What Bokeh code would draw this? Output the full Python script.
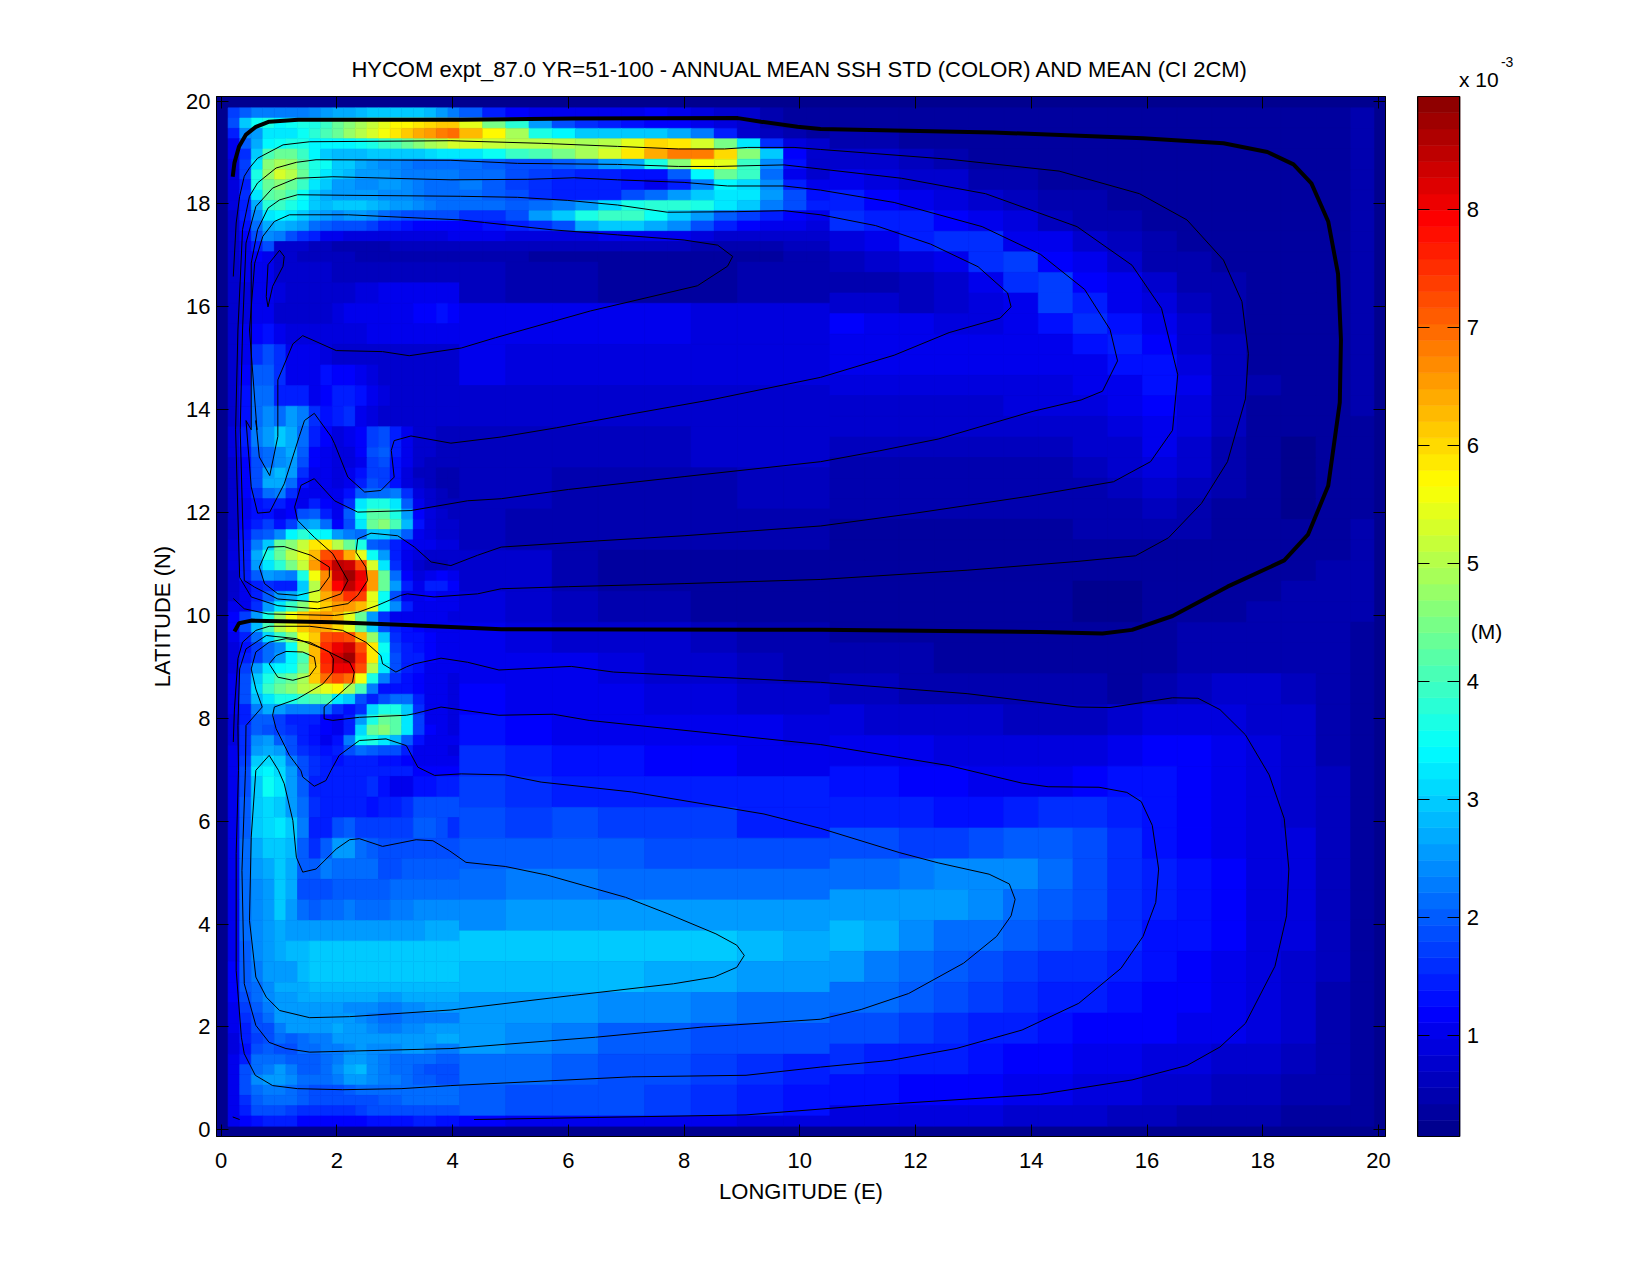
from bokeh.embed import file_html
from bokeh.resources import INLINE
from bokeh.plotting import figure
from bokeh.layouts import row
from bokeh.models import LinearAxis, Label, FixedTicker, ColumnDataSource, Range1d, Title

TITLE = "HYCOM expt_87.0 YR=51-100 - ANNUAL MEAN SSH STD (COLOR) AND MEAN (CI 2CM)"
XLABEL = "LONGITUDE (E)"
YLABEL = "LATITUDE (N)"
XTICKS = [0, 2, 4, 6, 8, 10, 12, 14, 16, 18, 20]
YTICKS = [0, 2, 4, 6, 8, 10, 12, 14, 16, 18, 20]
CTICKS = [1, 2, 3, 4, 5, 6, 7, 8]
VMIN, VMAX = 0.14, 8.96
BORDER = 0.25

# SSH std (units of 1e-3 m). Grid indices: col k spans -0.08+0.2k, row r spans -0.13+0.2r
WEST_COLS = list(range(1, 22))

WEST_NORTH_ROWS = [(r, r) for r in range(99, 84, -1)]
WEST_NORTH = [
[1.7,2.0,2.3,2.3,2.3,2.3,2.3,2.4,2.6,2.7,2.7,2.8,3.0,3.0,3.0,3.0,2.9,2.8,2.5,2.3],
[1.9,2.9,3.5,3.6,3.4,3.5,3.6,3.6,3.9,4.3,4.6,4.9,5.2,5.5,5.7,5.7,5.9,6.0,6.1,6.2],
[1.4,2.4,2.6,3.2,3.2,3.3,3.5,3.8,4.1,4.4,4.8,5.0,5.3,5.6,5.8,6.1,6.4,6.6,6.8,6.9],
[1.1,2.0,2.7,3.4,3.5,3.7,3.6,3.4,3.4,3.4,3.4,3.5,3.7,3.9,4.1,4.3,4.6,4.9,5.1,5.3],
[1.0,1.6,3.0,4.0,4.3,4.3,3.9,3.4,3.0,2.8,2.8,2.8,2.9,2.9,3.0,3.0,3.0,3.1,3.2,3.2],
[0.9,1.7,3.2,4.6,4.9,4.7,4.2,3.7,3.5,3.0,2.9,2.7,2.5,2.4,2.4,2.3,2.2,2.1,2.1,2.2],
[0.9,1.7,3.6,4.8,5.3,5.1,4.3,3.7,3.3,3.0,2.8,2.6,2.6,2.5,2.4,2.3,2.3,2.3,2.3,2.3],
[0.9,1.5,3.6,4.4,4.6,4.4,3.9,3.3,2.9,2.6,2.5,2.4,2.4,2.5,2.5,2.4,2.3,2.2,2.2,2.2],
[0.9,1.6,3.2,4.2,4.3,4.0,3.5,2.9,2.7,2.6,2.6,2.5,2.5,2.4,2.4,2.4,2.3,2.2,2.2,2.2],
[0.9,1.5,2.7,3.8,3.9,3.6,3.4,3.0,2.8,2.9,3.0,2.9,2.8,2.7,2.5,2.5,2.4,2.3,2.2,2.1],
[0.8,1.4,2.4,3.2,3.4,3.3,3.0,2.7,2.5,2.4,2.5,2.5,2.4,2.2,2.0,1.9,1.9,1.9,1.8,1.8],
[0.8,1.3,2.1,2.7,2.8,2.7,2.5,2.2,2.0,1.9,1.9,1.8,1.7,1.5,1.4,1.3,1.2,1.2,1.2,1.2],
[0.7,1.2,1.8,2.4,2.3,1.8,1.6,1.4,1.1,1.0,0.9,0.9,0.9,0.9,0.9,0.9,0.9,0.9,0.9,1.0],
[0.7,1.1,1.4,1.9,0.8,0.7,0.7,0.6,0.6,0.5,0.5,0.5,0.5,0.5,0.6,0.6,0.6,0.6,0.6,0.6],
[0.7,1.0,1.2,1.1,0.7,0.7,0.6,0.6,0.6,0.6,0.6,0.5,0.5,0.5,0.5,0.5,0.5,0.5,0.5,0.5],
]

WEST_MID_ROWS = [(83,84),(81,82),(79,80),(77,78),(75,76),(73,74),(71,72),(69,70),(67,68)]
WEST_MID = [
[0.7,1.0,1.1,1.0,0.8,0.7,0.7,0.7,0.7,0.6,0.6,0.6,0.6,0.6,0.6,0.6,0.6,0.6,0.6,0.6],
[0.7,0.9,1.0,1.0,0.9,0.8,0.7,0.7,0.8,0.8,0.8,0.9,0.9,1.0,1.0,1.1,1.1,1.1,1.1,1.1],
[0.7,0.9,1.1,1.0,0.7,0.7,0.7,0.7,0.8,0.9,1.0,1.1,1.1,1.1,1.1,1.1,1.2,1.2,1.3,1.2],
[0.7,1.0,1.2,1.3,1.0,0.9,0.9,0.9,0.9,0.9,0.9,0.9,1.0,1.0,1.1,1.1,1.1,1.1,1.1,1.0],
[0.7,1.1,1.6,1.9,1.6,1.1,1.0,1.0,0.9,0.8,0.8,0.8,0.8,0.8,0.8,0.8,0.8,0.8,0.8,0.8],
[0.7,1.2,2.0,2.0,1.6,1.1,1.1,1.0,1.3,1.2,1.2,1.1,0.9,0.8,0.8,0.8,0.8,0.7,0.7,0.7],
[0.7,1.3,2.1,2.2,1.5,1.5,1.4,1.0,1.2,1.5,1.5,1.3,1.0,0.9,0.8,0.8,0.7,0.7,0.7,0.7],
[0.7,1.3,2.1,2.4,2.2,2.5,2.3,1.6,1.3,1.5,1.6,1.1,0.9,0.8,0.7,0.7,0.7,0.7,0.8,0.8],
[0.9,1.4,2.3,2.5,2.9,2.7,2.1,1.4,1.2,0.9,1.0,1.2,1.7,1.8,1.4,1.1,0.8,0.7,0.6,0.6],
]

WEST_EDDY_ROWS = [(r, r) for r in range(66, 34, -1)]
WEST_EDDY = [
[0.9,1.3,2.0,2.2,2.4,2.7,2.0,1.2,1.1,0.9,0.9,1.2,1.9,2.0,1.5,1.1,0.8,0.7,0.6,0.6],
[0.8,1.2,1.8,2.2,2.4,2.5,1.8,1.2,1.0,0.9,0.9,1.1,1.7,1.8,1.3,1.0,0.7,0.6,0.6,0.6],
[0.8,1.2,1.8,2.6,2.8,2.5,1.6,1.1,1.0,0.9,1.0,1.3,1.7,1.7,1.3,0.9,0.6,0.6,0.5,0.5],
[0.8,1.2,1.8,2.7,2.7,2.1,1.3,1.0,1.0,0.9,1.1,1.5,1.8,1.7,1.3,0.9,0.7,0.6,0.5,0.5],
[0.8,1.2,1.6,2.1,2.3,1.6,1.0,1.0,1.0,1.0,1.3,2.0,2.2,2.2,2.3,1.6,0.9,0.7,0.6,0.5],
[0.8,1.1,1.3,1.5,1.4,1.2,1.0,1.4,1.2,1.0,1.6,3.3,3.6,3.7,3.2,2.0,1.0,0.8,0.6,0.6],
[0.8,1.1,1.3,1.3,1.0,1.2,1.8,2.0,1.4,1.0,2.0,3.5,4.2,4.2,3.6,2.5,1.2,0.9,0.7,0.6],
[0.8,1.2,1.4,1.7,1.3,1.7,2.5,2.7,2.2,1.2,1.9,3.2,4.3,4.6,4.0,2.8,1.3,0.9,0.8,0.7],
[0.8,1.3,1.8,2.0,2.4,3.4,3.8,3.5,3.4,2.6,2.3,2.2,3.0,3.0,2.5,2.0,1.1,0.9,0.8,0.8],
[0.9,1.5,2.3,3.0,4.4,4.6,5.2,5.8,5.8,5.1,4.4,3.7,2.0,1.8,1.5,1.2,1.0,1.0,0.9,0.9],
[0.9,1.5,2.7,3.7,4.4,5.0,5.5,6.3,7.3,7.4,6.4,5.5,3.5,2.5,1.4,1.1,0.9,0.8,0.8,0.8],
[0.9,1.4,2.5,3.3,3.8,4.5,5.2,6.5,7.6,8.5,8.4,7.2,5.3,3.2,1.6,1.0,0.7,0.6,0.6,0.7],
[0.8,1.4,2.0,2.6,2.4,2.3,3.6,5.6,6.7,8.3,8.7,8.0,6.5,4.3,2.1,1.2,0.9,1.0,1.2,1.0],
[0.8,1.1,1.5,1.6,1.5,1.4,2.9,5.0,6.8,7.9,8.5,7.9,6.6,4.4,2.6,1.5,1.1,1.4,1.5,1.2],
[0.8,1.0,1.5,2.0,2.5,2.7,3.3,5.3,6.4,7.0,7.5,7.4,5.4,3.5,1.9,1.1,1.1,1.2,1.1,1.0],
[1.0,1.1,1.6,2.5,3.3,3.9,4.6,5.7,6.2,6.5,6.5,6.3,5.4,3.5,2.4,1.4,1.1,1.0,1.1,1.0],
[1.2,1.7,2.6,3.7,4.7,5.6,6.2,6.4,6.6,6.3,5.5,4.3,2.5,1.6,1.1,1.0,1.0,1.0,1.0,0.9],
[1.2,1.8,2.8,4.0,5.0,5.5,6.1,6.4,6.4,6.0,5.4,4.3,2.9,1.9,1.4,1.3,1.2,1.1,1.0,1.0],
[1.0,1.5,2.2,3.1,3.9,4.5,5.6,6.2,7.2,7.4,7.3,6.3,4.8,3.0,1.6,1.3,1.3,1.2,1.1,1.0],
[0.9,1.3,1.7,2.2,2.4,3.5,5.0,6.3,7.5,8.1,8.4,7.3,5.8,3.5,1.7,1.4,1.3,1.2,1.1,1.0],
[0.9,1.4,1.7,2.2,2.6,3.4,4.0,6.3,7.6,8.4,8.7,7.5,5.8,3.4,1.9,1.5,1.4,1.2,1.1,1.0],
[0.9,1.7,2.5,3.2,3.4,3.5,4.4,6.1,7.5,8.1,8.0,7.3,5.0,3.2,1.9,1.5,1.3,1.1,1.1,1.0],
[1.0,1.9,3.0,3.6,4.0,4.4,4.9,6.2,6.9,7.3,7.0,5.6,3.7,2.3,1.6,1.3,1.2,1.1,1.0,0.9],
[1.0,1.9,3.1,3.9,4.4,4.6,5.0,5.2,5.5,5.7,4.9,4.0,2.3,1.3,1.3,1.3,1.2,1.1,1.0,0.9],
[1.0,1.8,2.8,3.2,3.6,3.7,3.9,4.0,4.0,3.3,3.0,1.9,1.4,1.9,2.2,2.1,1.4,1.1,1.0,0.9],
[1.0,1.5,2.3,2.7,2.5,2.3,2.3,2.3,2.1,1.6,1.3,1.6,3.1,3.6,3.6,3.0,1.6,1.1,1.0,0.9],
[0.9,1.4,2.0,2.0,1.7,1.5,1.5,1.5,1.2,1.0,1.4,2.5,3.6,4.4,4.2,3.2,1.7,1.1,1.0,0.9],
[0.9,1.6,2.0,1.9,1.7,1.6,1.5,1.3,1.2,1.0,1.5,3.1,4.3,4.6,4.2,3.3,1.7,1.2,1.0,0.9],
[0.9,1.6,2.4,2.5,2.0,1.8,1.5,1.3,1.1,1.3,2.3,3.5,3.6,3.3,2.8,2.0,1.3,1.1,1.0,1.0],
[1.0,1.6,2.6,2.7,2.5,1.9,1.6,1.4,1.3,1.5,1.8,2.1,2.0,1.9,1.8,1.4,1.1,1.1,1.0,0.9],
[1.0,1.7,2.9,3.1,2.9,2.3,1.9,1.6,1.4,1.3,1.5,1.5,1.4,1.3,1.3,1.2,1.0,1.1,1.0,1.0],
[1.0,1.8,3.2,3.4,3.1,2.5,1.9,1.6,1.5,1.4,1.4,1.4,1.4,1.5,1.5,1.4,1.2,1.2,1.2,1.2],
]

WEST_SOUTH_ROWS = [(33,34),(31,32),(29,30),(27,28),(25,26),(23,24),(21,22),(19,20),(17,18),(15,16),
                   (14,14),(13,13),(12,12),(11,11),(10,10),(9,9),(8,8),(7,7),(6,6),(5,5),(4,4),(3,3),(2,2),(1,1)]
WEST_SOUTH = [
[1.0,1.9,3.0,3.5,3.2,2.5,2.0,1.5,1.5,1.4,1.4,1.4,1.6,1.3,1.1,1.0,1.3,1.3,1.4,1.4],
[1.0,2.0,2.9,3.1,3.0,2.6,2.2,1.6,1.4,1.4,1.4,1.4,1.3,1.4,1.4,1.6,1.8,1.8,1.8,1.8],
[1.0,2.0,2.9,3.1,3.2,2.9,2.3,1.4,1.4,1.8,2.0,1.7,1.7,1.7,1.7,1.7,2.0,2.0,1.8,1.6],
[1.0,2.1,2.7,3.0,3.0,2.8,2.0,1.6,2.0,2.6,2.5,2.2,2.0,1.8,1.8,1.9,1.9,1.9,1.9,1.9],
[1.0,2.1,2.5,2.7,3.0,2.7,2.0,2.0,2.3,2.2,2.2,2.1,2.1,1.9,1.8,2.0,2.0,2.0,2.0,2.0],
[1.0,2.1,2.4,2.6,3.0,2.7,1.9,1.8,1.9,2.0,2.0,2.0,2.0,2.0,2.2,2.2,2.2,2.2,2.2,2.2],
[1.0,2.1,2.4,2.6,2.9,2.5,2.2,2.0,2.1,2.2,2.3,2.2,2.1,2.2,2.3,2.3,2.4,2.4,2.4,2.4],
[1.1,2.1,2.4,2.6,2.7,2.6,2.6,2.5,2.5,2.5,2.5,2.5,2.6,2.6,2.6,2.6,2.6,2.7,2.7,2.7],
[1.1,2.0,2.4,2.6,2.75,2.85,2.85,2.9,2.9,2.9,2.9,2.9,2.9,2.9,2.9,2.9,2.9,2.9,2.9,2.9],
[1.2,2.0,2.3,2.5,2.6,2.6,2.85,2.9,2.9,2.9,2.9,2.9,2.9,2.9,2.9,2.9,2.9,2.9,2.9,2.9],
[1.2,2.0,2.2,2.4,2.7,2.7,2.7,2.8,2.8,2.8,2.8,2.8,2.8,2.8,2.8,2.8,2.8,2.8,2.8,2.8],
[1.2,1.9,2.1,2.4,2.5,2.6,2.7,2.7,2.7,2.7,2.7,2.7,2.7,2.6,2.6,2.7,2.7,2.7,2.7,2.7],
[1.1,1.7,2.0,2.3,2.5,2.6,2.6,2.6,2.6,2.6,2.4,2.4,2.4,2.3,2.3,2.4,2.4,2.5,2.5,2.5],
[1.1,1.6,1.9,2.1,2.6,2.6,2.6,2.6,2.6,2.6,2.5,2.4,2.3,2.2,2.2,2.3,2.3,2.3,2.3,2.3],
[1.0,1.5,1.8,1.9,2.3,2.6,2.6,2.6,2.6,2.7,2.6,2.5,2.4,2.3,2.3,2.4,2.4,2.5,2.5,2.6],
[0.9,1.4,1.7,1.9,2.1,2.0,2.2,2.3,2.3,2.6,2.6,2.5,2.5,2.5,2.5,2.6,2.6,2.6,2.7,2.7],
[0.9,1.3,1.9,2.0,1.9,1.9,2.1,2.1,2.3,2.3,2.4,2.5,2.4,2.4,2.4,2.5,2.5,2.4,2.3,2.3],
[1.0,1.5,2.1,2.1,2.2,2.0,2.0,2.0,2.2,2.3,2.5,2.5,2.4,2.3,2.2,2.2,2.2,2.2,2.0,2.0],
[1.1,1.8,2.2,2.3,2.5,2.3,2.0,2.0,2.2,2.4,2.7,2.8,2.4,2.3,2.2,2.1,2.0,1.9,1.9,1.9],
[1.1,1.9,2.4,2.6,2.5,2.4,2.1,2.1,2.2,2.3,2.6,2.6,2.4,2.3,2.3,2.2,2.0,2.0,1.9,1.9],
[1.1,1.8,2.2,2.3,2.3,2.2,2.0,1.9,1.9,1.9,2.0,2.1,2.1,2.1,2.1,2.1,2.1,2.1,2.1,2.1],
[1.0,1.6,2.0,2.1,2.2,2.2,2.0,1.9,1.8,1.8,1.9,1.9,1.9,2.0,2.0,2.1,2.1,2.1,2.1,2.1],
[1.0,1.4,1.8,1.9,1.9,1.7,1.6,1.6,1.6,1.6,1.6,1.7,1.8,1.9,1.8,1.8,1.8,1.9,1.8,1.8],
[1.0,1.2,1.3,1.4,1.4,1.4,1.2,1.2,1.2,1.2,1.2,1.2,1.3,1.3,1.3,1.3,1.4,1.4,1.3,1.3],
]

BAND_COLS = list(range(21, 54, 2))
BAND_ROWS = [(r, r) for r in range(99, 84, -1)]
BAND = [
[2.0,1.4,1.2,1.1,1.0,1.0,1.0,1.1,1.2,1.1,0.9,0.8,0.7,0.5,0.4,0.4],
[5.4,4.5,3.8,2.6,1.9,1.6,1.4,1.3,1.2,1.2,1.0,0.9,0.7,0.5,0.4,0.4],
[6.3,5.7,4.9,3.7,3.4,2.9,2.9,2.9,2.9,2.7,2.3,1.4,0.8,0.6,0.5,0.4],
[5.3,5.2,5.1,5.1,5.0,4.9,5.0,5.5,6.0,5.9,5.3,4.5,3.3,1.6,0.9,0.7],
[3.2,3.5,3.9,4.1,4.5,4.9,5.3,5.8,6.4,6.8,6.8,6.0,4.6,2.9,1.2,0.7],
[2.1,2.0,1.9,1.9,2.0,2.2,2.5,2.7,3.7,4.6,5.6,5.5,3.9,2.4,1.3,0.8],
[2.2,2.1,1.9,1.7,1.6,1.5,1.4,1.3,1.3,2.0,3.4,4.3,3.9,2.2,1.1,0.7],
[2.3,2.0,1.7,1.6,1.5,1.5,1.4,1.3,1.1,1.4,2.3,3.4,3.1,2.4,1.4,1.0],
[2.2,2.0,1.8,1.6,1.4,1.4,1.5,1.8,2.1,2.5,2.9,3.3,3.3,2.5,1.9,1.3],
[2.1,2.1,2.0,2.2,2.3,2.6,3.1,3.7,3.8,3.8,3.7,3.3,2.9,2.3,1.9,1.5],
[1.6,1.6,1.8,2.5,3.0,3.6,3.9,3.9,3.5,3.0,2.5,2.0,1.7,1.4,1.2,1.1],
[1.2,1.3,1.5,1.6,1.9,2.7,2.9,2.9,2.7,2.4,1.9,1.5,1.2,1.1,1.0,0.9],
[1.0,1.0,0.9,0.9,0.9,0.9,1.0,1.0,1.0,1.0,0.9,0.8,0.8,0.7,0.7,0.7],
[0.6,0.6,0.6,0.6,0.6,0.6,0.6,0.6,0.6,0.6,0.5,0.5,0.5,0.5,0.6,0.6],
[0.5,0.5,0.5,0.4,0.4,0.4,0.4,0.4,0.4,0.4,0.4,0.4,0.4,0.4,0.5,0.5],
]

MIDLON_COLS = [21, 25, 29, 33, 37, 41, 45, 49, 53]
MIDLON_ROWS = [(81,84),(77,80),(73,76),(69,72),(65,68),(61,64),(57,60),(53,56),(50,52),(47,49),(44,46),(41,43),
               (38,40),(35,37),(32,34),(29,31),(26,28),(23,25),(20,22),(17,19),(14,16),(11,13),(8,10),(5,7),(2,4),(1,1)]
MIDLON = [
[0.6,0.5,0.45,0.4,0.4,0.4,0.45,0.5],
[1.0,1.0,1.0,1.0,1.0,0.9,0.9,0.9],
[1.0,0.9,0.9,0.9,0.9,0.9,0.9,0.9],
[0.7,0.7,0.7,0.8,0.8,0.8,0.8,0.8],
[0.6,0.6,0.6,0.6,0.6,0.7,0.7,0.7],
[0.6,0.6,0.5,0.5,0.5,0.5,0.6,0.6],
[0.6,0.5,0.5,0.45,0.45,0.45,0.45,0.5],
[0.7,0.7,0.5,0.4,0.35,0.35,0.4,0.4],
[0.9,0.7,0.6,0.5,0.45,0.4,0.4,0.4],
[1.0,0.9,0.8,0.75,0.7,0.6,0.5,0.45],
[1.1,1.0,1.0,0.9,0.8,0.7,0.6,0.55],
[1.2,1.1,1.1,1.0,0.9,0.9,0.8,0.7],
[1.3,1.2,1.1,1.1,1.0,1.0,1.0,0.9],
[1.6,1.5,1.3,1.3,1.2,1.2,1.1,1.1],
[1.7,1.6,1.5,1.5,1.5,1.4,1.4,1.4],
[1.8,1.7,1.8,1.7,1.7,1.7,1.5,1.5],
[2.0,2.0,2.0,2.0,1.9,1.9,1.8,1.8],
[2.2,2.3,2.3,2.2,2.2,2.2,2.1,2.1],
[2.4,2.5,2.5,2.6,2.55,2.6,2.6,2.6],
[2.9,2.95,3.0,3.0,3.0,2.9,2.85,2.75],
[2.85,2.85,2.85,2.85,2.75,2.75,2.6,2.5],
[2.6,2.6,2.5,2.4,2.4,2.3,2.2,2.1],
[2.5,2.4,2.3,2.0,2.0,1.9,1.8,1.8],
[2.2,2.1,2.0,1.9,1.8,1.7,1.6,1.5],
[2.0,1.9,1.9,1.8,1.7,1.6,1.4,1.3],
[1.2,1.1,1.1,1.1,1.1,1.0,0.95,0.9],
]

EAST_COLS = [53,56,59,62,65,68,71,74,77,80,83,86,89,92,95,98,100]
EAST_NORTH_ROWS = [(r, r + 1) for r in range(98, 46, -2)]
EAST_NORTH = [
[0.3,0.3,0.3,0.3,0.3,0.3,0.3,0.3,0.3,0.3,0.3,0.3,0.3,0.3,0.35,0.45],
[0.55,0.5,0.4,0.35,0.3,0.3,0.3,0.3,0.3,0.3,0.3,0.3,0.3,0.3,0.35,0.45],
[0.8,0.7,0.6,0.5,0.4,0.35,0.3,0.3,0.3,0.3,0.3,0.3,0.3,0.3,0.35,0.45],
[1.0,0.9,0.8,0.7,0.55,0.45,0.4,0.35,0.35,0.3,0.3,0.3,0.3,0.3,0.35,0.45],
[1.5,1.2,1.1,0.9,0.8,0.6,0.5,0.45,0.35,0.35,0.3,0.3,0.3,0.3,0.35,0.45],
[1.6,1.5,1.5,1.2,1.0,0.9,0.6,0.55,0.45,0.4,0.35,0.3,0.3,0.3,0.35,0.45],
[0.9,1.1,1.4,1.6,1.6,1.1,1.0,0.8,0.6,0.5,0.4,0.35,0.3,0.3,0.35,0.45],
[0.6,0.7,0.9,1.1,1.6,1.7,1.2,1.0,0.8,0.55,0.45,0.4,0.35,0.3,0.35,0.45],
[0.5,0.5,0.6,0.7,1.0,1.6,1.7,1.2,1.0,0.7,0.55,0.45,0.35,0.3,0.35,0.45],
[0.8,0.7,0.6,0.7,0.9,1.1,1.7,1.5,1.1,0.9,0.6,0.5,0.4,0.3,0.35,0.45],
[1.15,1.0,1.0,0.9,0.9,1.0,1.3,1.6,1.3,1.1,0.7,0.55,0.4,0.3,0.35,0.45],
[1.1,1.0,1.0,1.0,1.0,1.0,1.1,1.3,1.5,1.2,0.8,0.6,0.4,0.3,0.35,0.45],
[1.0,1.0,1.0,1.0,1.0,1.0,1.0,1.0,1.3,1.3,0.9,0.6,0.4,0.3,0.3,0.45],
[0.9,0.9,0.9,0.9,0.9,0.9,0.9,1.0,1.1,1.3,1.0,0.6,0.45,0.3,0.3,0.45],
[0.8,0.75,0.8,0.8,0.8,0.85,0.85,0.9,1.05,1.2,0.9,0.6,0.4,0.3,0.3,0.45],
[0.7,0.7,0.7,0.7,0.7,0.7,0.7,0.8,0.95,1.05,0.85,0.6,0.4,0.3,0.3,0.4],
[0.6,0.6,0.65,0.65,0.65,0.65,0.65,0.7,0.8,1.0,0.75,0.55,0.35,0.25,0.3,0.4],
[0.55,0.55,0.55,0.55,0.55,0.55,0.55,0.6,0.7,0.9,0.7,0.5,0.35,0.25,0.3,0.4],
[0.5,0.5,0.5,0.5,0.5,0.5,0.55,0.55,0.6,0.8,0.65,0.45,0.3,0.25,0.3,0.4],
[0.5,0.5,0.45,0.45,0.45,0.5,0.5,0.5,0.55,0.6,0.55,0.4,0.3,0.25,0.3,0.4],
[0.4,0.4,0.4,0.4,0.4,0.4,0.4,0.45,0.45,0.5,0.5,0.35,0.3,0.3,0.35,0.45],
[0.35,0.35,0.35,0.4,0.4,0.4,0.35,0.35,0.4,0.4,0.4,0.35,0.3,0.35,0.4,0.45],
[0.4,0.4,0.35,0.35,0.35,0.35,0.3,0.3,0.3,0.3,0.35,0.3,0.35,0.4,0.45,0.45],
[0.4,0.4,0.35,0.35,0.35,0.35,0.3,0.25,0.25,0.3,0.3,0.35,0.4,0.45,0.45,0.45],
[0.4,0.35,0.35,0.35,0.35,0.35,0.3,0.25,0.25,0.3,0.35,0.4,0.45,0.45,0.45,0.45],
[0.4,0.35,0.35,0.35,0.35,0.3,0.3,0.3,0.35,0.4,0.45,0.5,0.5,0.5,0.45,0.4],
]
EAST_SOUTH_ROWS = [(45,47),(42,44),(39,41),(36,38),(33,35),(30,32),(27,29),(24,26),(21,23),(18,20),(15,17),(12,14),(9,11),(6,8),(3,5),(1,2)]
EAST_SOUTH = [
[0.5,0.45,0.45,0.4,0.4,0.35,0.35,0.3,0.3,0.35,0.45,0.55,0.55,0.55,0.5,0.35],
[0.65,0.6,0.55,0.55,0.5,0.5,0.45,0.45,0.4,0.5,0.65,0.75,0.7,0.65,0.5,0.35],
[0.85,0.8,0.75,0.7,0.7,0.65,0.6,0.6,0.7,0.85,0.95,0.9,0.8,0.7,0.55,0.35],
[1.05,1.0,1.0,0.95,0.95,0.85,0.85,0.9,1.0,1.15,1.15,1.05,0.9,0.75,0.55,0.4],
[1.3,1.25,1.2,1.15,1.1,1.05,1.05,1.15,1.3,1.25,1.2,1.1,0.9,0.8,0.6,0.4],
[1.5,1.5,1.4,1.35,1.35,1.5,1.6,1.6,1.45,1.3,1.2,1.1,0.95,0.8,0.6,0.4],
[1.8,1.8,1.7,1.75,1.85,2.0,2.0,1.85,1.55,1.35,1.2,1.1,0.95,0.85,0.6,0.4],
[2.1,2.2,2.3,2.35,2.4,2.4,2.1,1.9,1.6,1.4,1.25,1.15,0.95,0.85,0.6,0.4],
[2.6,2.6,2.6,2.5,2.4,2.2,1.95,1.8,1.6,1.4,1.25,1.15,0.95,0.85,0.6,0.4],
[2.8,2.7,2.4,2.2,2.15,2.0,1.85,1.7,1.55,1.35,1.25,1.15,0.95,0.85,0.6,0.4],
[2.6,2.3,2.2,2.0,1.9,1.75,1.65,1.55,1.4,1.3,1.2,1.1,0.95,0.8,0.6,0.4],
[2.2,2.1,1.95,1.8,1.7,1.6,1.45,1.4,1.3,1.2,1.15,1.05,0.95,0.75,0.55,0.35],
[1.9,1.8,1.7,1.6,1.5,1.4,1.3,1.2,1.15,1.15,1.05,1.0,0.85,0.7,0.5,0.35],
[1.6,1.5,1.45,1.4,1.3,1.2,1.15,1.05,1.0,0.95,0.9,0.8,0.7,0.6,0.45,0.35],
[1.3,1.25,1.2,1.15,1.15,1.1,1.0,0.95,0.85,0.8,0.7,0.65,0.6,0.5,0.45,0.35],
[0.95,0.9,0.85,0.85,0.85,0.8,0.75,0.7,0.65,0.6,0.55,0.5,0.45,0.4,0.4,0.3],
]

# SSH mean contours: (lon, lat) pairs
ZERO = [(0.2,18.53),(0.23,18.8),(0.31,19.12),(0.43,19.35),(0.6,19.5),(0.83,19.6),(1.33,19.64),(4.14,19.64),(6.1,19.66),(8.93,19.67),(9.33,19.6),(9.96,19.5),(10.36,19.46),(13.34,19.39),(15.93,19.28),(17.32,19.18),(18.08,19.01),(18.53,18.77),(18.84,18.4),(19.13,17.66),(19.3,16.64),(19.35,15.36),(19.33,14.14),(19.13,12.52),(18.78,11.57),(18.37,11.07),(17.39,10.56),(16.44,9.99),(15.74,9.72),(15.23,9.65),(14.16,9.68),(10.36,9.72),(4.84,9.73),(3.1,9.82),(1.95,9.87),(0.52,9.9),(0.31,9.85),(0.23,9.69)]
N1 = [(0.21,16.59),(0.26,17.63),(0.32,18.15),(0.4,18.54),(0.49,18.7),(0.63,18.89),(1.07,19.15),(1.53,19.21),(3.97,19.23),(5.53,19.18),(6.85,19.12),(7.9,19.07),(8.7,19.07),(9.1,19.1),(9.9,19.1),(10.36,19.06),(12.58,18.87),(14.48,18.64),(15.87,18.2),(16.69,17.69),(17.32,16.91),(17.64,16.1),(17.75,15.09),(17.7,14.21),(17.39,12.99),(16.94,12.18),(16.37,11.51),(15.8,11.16),(14.79,11.05),(12.89,10.88),(10.36,10.7),(8,10.62),(6,10.56),(4.84,10.52),(4.43,10.42),(3.68,10.36),(3.22,10.42),(3.1,10.39),(2.71,10.2),(2.36,10.06),(1.96,10.0),(0.81,10.03),(0.4,10.13),(0.21,10.33)]
N2 = [(0.25,13.61),(0.29,15.55),(0.37,17.5),(0.49,18.15),(0.63,18.41),(0.95,18.7),(1.3,18.81),(1.64,18.86),(3.97,18.85),(5.12,18.79),(6.85,18.77),(7.9,18.73),(8.58,18.73),(9.33,18.75),(9.73,18.76),(10.36,18.68),(11.76,18.5),(13.21,18.2),(14.79,17.56),(15.74,16.81),(16.25,15.97),(16.53,14.68),(16.44,13.6),(16.06,12.99),(15.42,12.6),(13.97,12.32),(11.94,11.98),(10.36,11.74),(8,11.55),(6.5,11.45),(4.84,11.33),(4.43,11.17),(3.97,10.97),(3.63,11.04),(3.34,11.33),(3.05,11.55),(2.59,11.6),(2.36,11.49),(2.33,11.23),(2.5,10.94),(2.53,10.68),(2.36,10.39),(2.19,10.23),(1.67,10.13),(0.98,10.19),(0.52,10.36),(0.32,10.74),(0.25,13.61)]
N3 = [(0.33,13.61),(0.37,15.55),(0.43,17.24),(0.6,17.95),(0.89,18.31),(1.3,18.5),(1.93,18.53),(3.97,18.47),(5.3,18.48),(6.1,18.51),(6.85,18.47),(8.0,18.42),(8.75,18.35),(9.73,18.35),(10.36,18.27),(11.63,18.03),(13.15,17.56),(14.16,17.02),(14.92,16.34),(15.36,15.56),(15.49,14.95),(15.23,14.36),(14.86,14.19),(14.03,13.97),(12.39,13.43),(11.37,13.2),(10.36,12.99),(8,12.7),(6,12.45),(4.84,12.27),(4.26,12.23),(3.28,12.04),(2.36,12.01),(1.96,12.23),(1.61,12.66),(1.38,12.53),(1.27,12.11),(1.32,11.85),(1.61,11.52),(1.93,11.2),(2.19,10.68),(2.07,10.42),(1.67,10.26),(0.98,10.32),(0.58,10.55),(0.4,10.68),(0.33,13.61)]
N4 = [(0.52,13.61),(0.52,16.85),(0.63,17.5),(0.81,17.92),(1.01,18.08),(1.32,18.18),(2.13,18.17),(4.14,18.15),(5.12,18.13),(5.99,18.07),(6.85,17.98),(7.71,17.84),(8.87,17.85),(9.73,17.87),(10.36,17.79),(11.31,17.58),(12.26,17.22),(13.08,16.78),(13.59,16.27),(13.65,16.0),(13.46,15.78),(12.58,15.5),(11.63,15.06),(10.36,14.63),(8.5,14.2),(7,13.9),(5.8,13.65),(4.84,13.47),(3.97,13.35),(3.28,13.49),(2.99,13.4),(2.94,13.21),(2.99,12.69),(2.76,12.43),(2.48,12.4),(2.19,12.69),(1.96,13.34),(1.9,13.48),(1.7,13.79),(1.61,13.93),(1.44,13.79),(1.35,13.48),(1.09,12.56),(0.84,12.01),(0.63,11.99),(0.52,12.5),(0.43,13.79),(0.52,13.61)]
N5 = [(0.62,13.61),(0.49,15.55),(0.58,16.85),(0.72,17.37),(0.92,17.66),(1.18,17.79),(2.2,17.79),(4.15,17.69),(4.55,17.64),(5.7,17.5),(6.85,17.4),(8.0,17.3),(8.58,17.2),(8.84,16.98),(8.75,16.79),(8.23,16.41),(6.38,15.92),(4.74,15.4),(4.15,15.2),(3.25,15.05),(2.79,15.13),(1.99,15.15),(1.41,15.44),(1.24,15.28),(0.98,14.58),(0.98,13.48),(0.84,12.72),(0.66,13.08),(0.6,13.79),(0.62,13.61)]
LENS = [(1.01,17.1),(1.09,16.98),(1.07,16.79),(0.89,16.4),(0.81,16.0),(0.78,16.2),(0.81,16.82),(1.01,17.1)]
EDDY_N = [(0.66,10.94),(0.81,11.33),(1.09,11.34),(1.55,11.17),(1.87,10.94),(1.87,10.75),(1.7,10.49),(1.32,10.39),(0.98,10.42),(0.75,10.62),(0.66,10.94)]
EDDY_S = [(0.83,9.06),(0.95,9.22),(1.12,9.3),(1.41,9.29),(1.61,9.19),(1.64,9.0),(1.53,8.83),(1.24,8.74),(0.98,8.8),(0.83,9.06)]
S1 = [(0.21,7.54),(0.23,8.18),(0.29,9.16),(0.37,9.48),(0.6,9.71),(0.83,9.79),(1.53,9.79),(2.1,9.71),(2.5,9.48),(2.76,9.22),(2.79,9.06),(3.02,8.9),(3.2,9.0),(3.34,9.06),(3.8,9.17),(4.26,9.09),(4.8,8.94),(6.05,9.01),(6.78,8.9),(10.36,8.7),(12.89,8.48),(14.79,8.22),(15.36,8.21),(16.44,8.4),(16.88,8.39),(17.26,8.17),(17.7,7.68),(18.11,6.9),(18.37,6.05),(18.45,5.07),(18.41,4.16),(18.21,3.18),(17.7,2.07),(17.26,1.61),(16.69,1.25),(15.74,0.97),(14.16,0.69),(11.12,0.47),(9.07,0.29),(4.37,0.2)]
S1B = [(0.2,0.25),(0.32,0.2)]
S2 = [(0.3,6.99),(0.29,7.86),(0.32,8.96),(0.43,9.35),(0.78,9.61),(1.3,9.55),(1.76,9.35),(2.22,9.09),(2.3,8.9),(2.27,8.7),(1.98,8.41),(1.78,8.22),(1.78,7.99),(1.93,7.96),(2.39,8.02),(3.2,8.06),(3.34,8.09),(3.8,8.22),(4.8,8.06),(5.74,8.08),(6.36,7.96),(10.36,7.49),(12.58,7.08),(13.84,6.74),(14.29,6.67),(15.17,6.66),(15.65,6.56),(15.9,6.38),(16.09,5.92),(16.2,5.07),(16.15,4.42),(15.93,3.76),(15.55,3.14),(14.82,2.46),(13.84,1.94),(12.7,1.58),(11.57,1.35),(10.36,1.22),(9.07,1.06),(7.09,1.03),(3.97,0.86),(3.11,0.8),(2.1,0.78),(1.32,0.8),(0.89,0.86),(0.59,1.06),(0.4,1.48),(0.35,1.8),(0.26,3.1),(0.26,5.37),(0.3,6.99)]
S3 = [(0.42,6.99),(0.43,7.86),(0.71,8.22),(0.6,8.57),(0.52,8.96),(0.6,9.29),(0.83,9.48),(1.12,9.55),(1.53,9.48),(1.87,9.29),(1.94,9.16),(1.93,8.9),(1.76,8.67),(1.32,8.38),(0.92,8.22),(0.89,8.06),(0.95,7.8),(1.18,7.28),(1.38,6.98),(1.41,6.86),(1.61,6.68),(1.81,6.79),(1.9,6.99),(2.04,7.28),(2.39,7.57),(2.85,7.6),(3.2,7.47),(3.4,7.05),(3.69,6.89),(4.15,6.92),(4.91,6.9),(5.53,6.76),(7.09,6.57),(9.38,6.14),(10.36,5.86),(11.72,5.39),(12.39,5.19),(13.27,4.97),(13.62,4.78),(13.72,4.48),(13.65,4.16),(13.4,3.76),(12.83,3.24),(11.88,2.65),(11.06,2.34),(10.36,2.15),(8.34,2.0),(6.47,1.8),(3.97,1.58),(2.22,1.53),(1.53,1.51),(1.12,1.58),(0.83,1.7),(0.6,2.03),(0.4,2.84),(0.36,5.04),(0.42,6.99)]
S4 = [(0.6,6.99),(0.52,5.69),(0.49,4.07),(0.6,2.97),(0.78,2.58),(1.01,2.32),(1.53,2.18),(2.22,2.2),(3.97,2.33),(6.05,2.61),(7.82,2.84),(8.52,2.97),(8.91,3.16),(9.04,3.39),(8.91,3.59),(8.55,3.81),(7.72,4.2),(6.99,4.52),(5.64,4.95),(4.91,5.12),(4.23,5.2),(3.94,5.43),(3.66,5.62),(3.37,5.64),(2.79,5.51),(2.39,5.66),(2.22,5.64),(1.99,5.46),(1.64,5.07),(1.41,5.01),(1.3,5.3),(1.24,6.01),(1.09,6.73),(0.99,6.99),(0.83,7.28),(0.6,6.99)]


def col_edge(k):
    return -0.08 + 0.2 * k


def row_edge(r):
    return -0.13 + 0.2 * r


def jet(i, n=64):
    t = (i + 1) / (n + 1)
    def c(v):
        return int(round(255 * min(1.0, max(0.0, v))))
    return "#%02x%02x%02x" % (c(1.5 - abs(4 * t - 3)), c(1.5 - abs(4 * t - 2)), c(1.5 - abs(4 * t - 1)))


PALETTE = [jet(i) for i in range(64)]


def color_of(v):
    return PALETTE[max(0, min(63, int((v - VMIN) / (VMAX - VMIN) * 64)))]


cells = dict(left=[], right=[], bottom=[], top=[], color=[])


def add_table(cols, rows, table):
    assert len(rows) == len(table), (len(rows), len(table))
    for (r0, r1), vals in zip(rows, table):
        assert len(vals) == len(cols) - 1, (r0, len(vals))
        for j, v in enumerate(vals):
            cells["left"].append(col_edge(cols[j]))
            cells["right"].append(col_edge(cols[j + 1]))
            cells["bottom"].append(row_edge(r0))
            cells["top"].append(row_edge(r1 + 1))
            cells["color"].append(color_of(v))


add_table(WEST_COLS, WEST_NORTH_ROWS, WEST_NORTH)
add_table(WEST_COLS, WEST_MID_ROWS, WEST_MID)
add_table(WEST_COLS, WEST_EDDY_ROWS, WEST_EDDY)
add_table(WEST_COLS, WEST_SOUTH_ROWS, WEST_SOUTH)
add_table(BAND_COLS, BAND_ROWS, BAND)
add_table(MIDLON_COLS, MIDLON_ROWS, MIDLON)
add_table(EAST_COLS, EAST_NORTH_ROWS, EAST_NORTH)
add_table(EAST_COLS, EAST_SOUTH_ROWS, EAST_SOUTH)

FONT = "Liberation Sans"
TICK_SIZE = "22px"
LABEL_SIZE = "22px"
W_MAIN, H = 1400, 1230

p = figure(width=W_MAIN, height=H, output_backend="svg", toolbar_location=None,
           x_range=Range1d(-0.08, 20.12), y_range=Range1d(-0.13, 20.09),
           min_border_left=216, min_border_right=15, min_border_top=96, min_border_bottom=94,
           background_fill_color=color_of(BORDER), border_fill_color="white", outline_line_color="black",
           x_axis_location=None, y_axis_location=None, frame_align=False)
p.grid.visible = False
p.title = Title(text=TITLE, align="center", text_font=FONT, text_font_size=LABEL_SIZE, text_font_style="normal",
                text_color="black", standoff=30)

p.quad(left="left", right="right", bottom="bottom", top="top", fill_color="color", line_color="color",
       line_width=0.6, source=ColumnDataSource(cells))

for pts in [N1, N2, N3, N4, N5, LENS, EDDY_N, EDDY_S, S1, S1B, S2, S3, S4]:
    p.line([a for a, b in pts], [b for a, b in pts], line_color="black", line_width=1.0)
p.line([a for a, b in ZERO], [b for a, b in ZERO], line_color="black", line_width=4.0)


def style_axis(ax, ticks, labelled):
    ax.ticker = FixedTicker(ticks=ticks)
    ax.major_tick_in = 12
    ax.major_tick_out = 0
    ax.minor_tick_line_color = None
    ax.axis_line_color = "black"
    ax.major_tick_line_color = "black"
    if labelled:
        ax.major_label_text_font = FONT
        ax.major_label_text_font_size = TICK_SIZE
        ax.major_label_text_color = "black"
    else:
        ax.major_label_overrides = {t: "" for t in ticks}
        ax.major_label_text_font_size = "1px"
        ax.major_label_standoff = 0


xb = LinearAxis(axis_label=XLABEL, axis_label_text_font=FONT, axis_label_text_font_size=LABEL_SIZE,
                axis_label_text_font_style="normal", axis_label_text_color="black", axis_label_standoff=8)
style_axis(xb, XTICKS, True)
xb.major_label_standoff = 16
p.add_layout(xb, "below")
yl = LinearAxis(axis_label=YLABEL, axis_label_text_font=FONT, axis_label_text_font_size=LABEL_SIZE,
                axis_label_text_font_style="normal", axis_label_text_color="black", axis_label_standoff=8)
style_axis(yl, YTICKS, True)
yl.major_label_standoff = 6
p.add_layout(yl, "left")
xt = LinearAxis()
style_axis(xt, XTICKS, False)
p.add_layout(xt, "above")
yr = LinearAxis()
style_axis(yr, YTICKS, False)
p.add_layout(yr, "right")

# colour bar: the frame is wider and taller than the bar so that its texts fit inside
W_CB = 180
PER_PX = (VMAX - VMIN) / 1040
cb = figure(width=W_CB, height=H, output_backend="svg", toolbar_location=None,
            x_range=Range1d(-5.3 / 42, 112.7 / 42), y_range=Range1d(VMIN - 4 * PER_PX, VMAX + 46 * PER_PX),
            min_border_left=12, min_border_right=50, min_border_top=50, min_border_bottom=90,
            outline_line_color=None, border_fill_color="white", background_fill_color="white",
            x_axis_location=None, y_axis_location=None, frame_align=False)
cb.grid.visible = False
step = (VMAX - VMIN) / 64
cb.quad(left=0, right=1,
        bottom=[VMIN + i * step for i in range(64)], top=[VMIN + (i + 1) * step for i in range(64)],
        fill_color=PALETTE, line_color=PALETTE, line_width=0.6)
cb.quad(left=[0], right=[1], bottom=[VMIN], top=[VMAX], fill_color=None, line_color="black", line_width=1)
cr = LinearAxis(fixed_location=1.0, bounds=(VMIN, VMAX))
style_axis(cr, CTICKS, True)
cr.major_label_standoff = 7
cb.add_layout(cr, "right")
cl = LinearAxis(fixed_location=0.0, bounds=(VMIN, VMAX))
style_axis(cl, CTICKS, False)
cb.add_layout(cl, "left")
cb.add_layout(Label(x=0.98, y=9.1, text="x 10", text_font=FONT, text_font_size="21px", text_color="black",
                    text_align="left", text_baseline="alphabetic"))
cb.add_layout(Label(x=1.98, y=9.25, text="-3", text_font=FONT, text_font_size="14px", text_color="black",
                    text_align="left", text_baseline="alphabetic"))
cb.add_layout(Label(x=1.26, y=4.42, text="(M)", text_font=FONT, text_font_size="21px", text_color="black",
                    text_align="left", text_baseline="middle"))

open("out.html", "w").write(file_html(row(p, cb), INLINE))
